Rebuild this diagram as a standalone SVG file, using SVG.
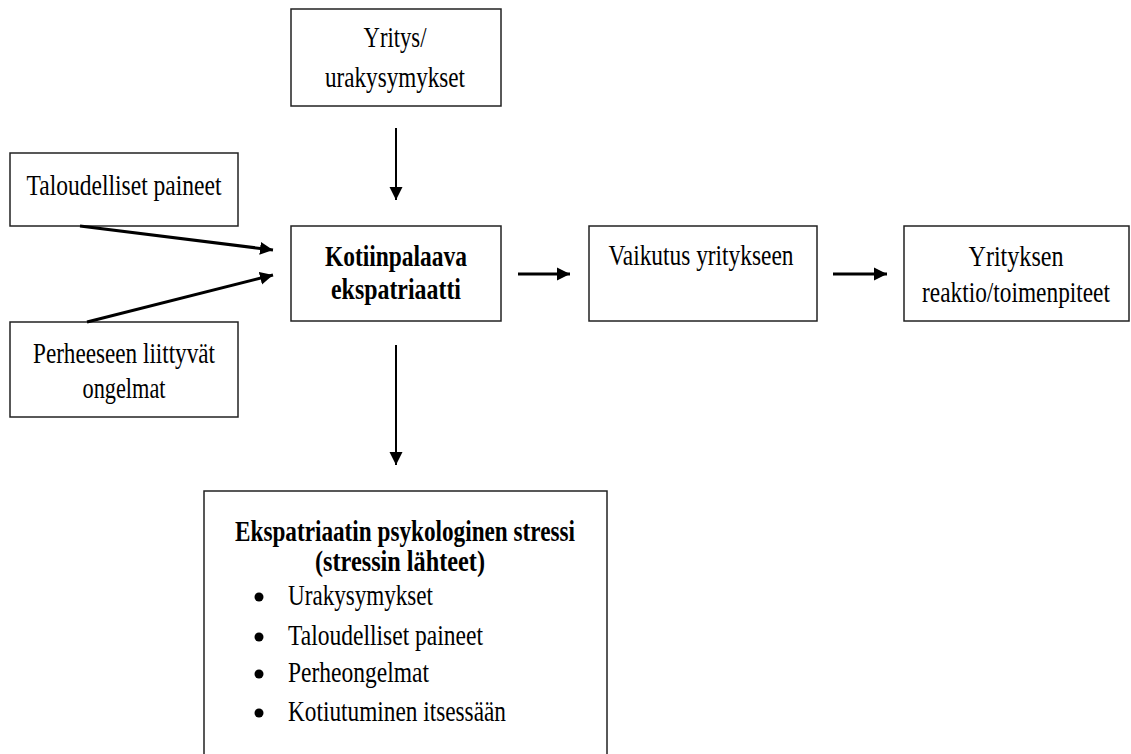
<svg xmlns="http://www.w3.org/2000/svg" width="1131" height="754" viewBox="0 0 1131 754">
<style>
.box{fill:#fff;stroke:#222;stroke-width:1.5}
.t{font-family:"Liberation Serif","Times New Roman",serif;font-size:29px;fill:#000;text-anchor:middle}
.b{font-weight:bold}
.l{text-anchor:start}
.c{stroke:#000;fill:none}
</style>
<defs>
<marker id="ah" markerUnits="userSpaceOnUse" markerWidth="14" markerHeight="14" refX="13" refY="7" orient="auto">
<path d="M0,0.5 L13,7 L0,13.5 Z" fill="#000"/>
</marker>
</defs>
<rect width="1131" height="754" fill="#fff"/>
<g id="n-yritys">
<rect class="box" x="291" y="9" width="210" height="97"/>
<text class="t" x="395" y="47" textLength="63" lengthAdjust="spacingAndGlyphs">Yritys/</text>
<text class="t" x="395" y="87" textLength="140" lengthAdjust="spacingAndGlyphs">urakysymykset</text>
</g>
<g id="n-talous">
<rect class="box" x="10" y="153" width="228" height="73"/>
<text class="t" x="124" y="195" textLength="195" lengthAdjust="spacingAndGlyphs">Taloudelliset paineet</text>
</g>
<g id="n-perhe">
<rect class="box" x="10" y="322" width="228" height="95"/>
<text class="t" x="124" y="363" textLength="182" lengthAdjust="spacingAndGlyphs">Perheeseen liittyvät</text>
<text class="t" x="124" y="398" textLength="83" lengthAdjust="spacingAndGlyphs">ongelmat</text>
</g>
<g id="n-koti">
<rect class="box" x="291" y="226" width="210" height="95"/>
<text class="t b" x="396" y="266" textLength="142" lengthAdjust="spacingAndGlyphs">Kotiinpalaava</text>
<text class="t b" x="396" y="299" textLength="130" lengthAdjust="spacingAndGlyphs">ekspatriaatti</text>
</g>
<g id="n-vaikutus">
<rect class="box" x="589" y="226" width="228" height="95"/>
<text class="t" x="701" y="265" textLength="185" lengthAdjust="spacingAndGlyphs">Vaikutus yritykseen</text>
</g>
<g id="n-reaktio">
<rect class="box" x="904" y="226" width="225" height="95"/>
<text class="t" x="1016" y="266" textLength="95" lengthAdjust="spacingAndGlyphs">Yrityksen</text>
<text class="t" transform="translate(1016,302) scale(0.805,1)" x="0" y="0">reaktio/toimenpiteet</text>
</g>
<g id="n-stressi">
<rect class="box" x="204" y="491" width="403" height="280"/>
<text class="t b" x="405" y="541" textLength="340" lengthAdjust="spacingAndGlyphs">Ekspatriaatin psykologinen stressi</text>
<text class="t b" x="400" y="571" textLength="170" lengthAdjust="spacingAndGlyphs">(stressin lähteet)</text>
<circle cx="259" cy="597" r="4.5"/>
<text class="t l" x="288" y="605" textLength="145" lengthAdjust="spacingAndGlyphs">Urakysymykset</text>
<circle cx="259" cy="637" r="4.5"/>
<text class="t l" x="288" y="645" textLength="195" lengthAdjust="spacingAndGlyphs">Taloudelliset paineet</text>
<circle cx="259" cy="674" r="4.5"/>
<text class="t l" x="288" y="682" textLength="141" lengthAdjust="spacingAndGlyphs">Perheongelmat</text>
<circle cx="259" cy="713" r="4.5"/>
<text class="t l" x="288" y="721" textLength="218" lengthAdjust="spacingAndGlyphs">Kotiutuminen itsessään</text>
</g>
<g id="connectors">
<line class="c" x1="396" y1="128" x2="396" y2="200" stroke-width="2" marker-end="url(#ah)"/>
<line class="c" x1="80" y1="226" x2="273" y2="250" stroke-width="3" marker-end="url(#ah)"/>
<line class="c" x1="87" y1="322" x2="273" y2="275" stroke-width="3" marker-end="url(#ah)"/>
<line class="c" x1="518" y1="274" x2="570" y2="274" stroke-width="3" marker-end="url(#ah)"/>
<line class="c" x1="833" y1="274" x2="887" y2="274" stroke-width="3" marker-end="url(#ah)"/>
<line class="c" x1="396" y1="345" x2="396" y2="465" stroke-width="2" marker-end="url(#ah)"/>
</g>
</svg>
